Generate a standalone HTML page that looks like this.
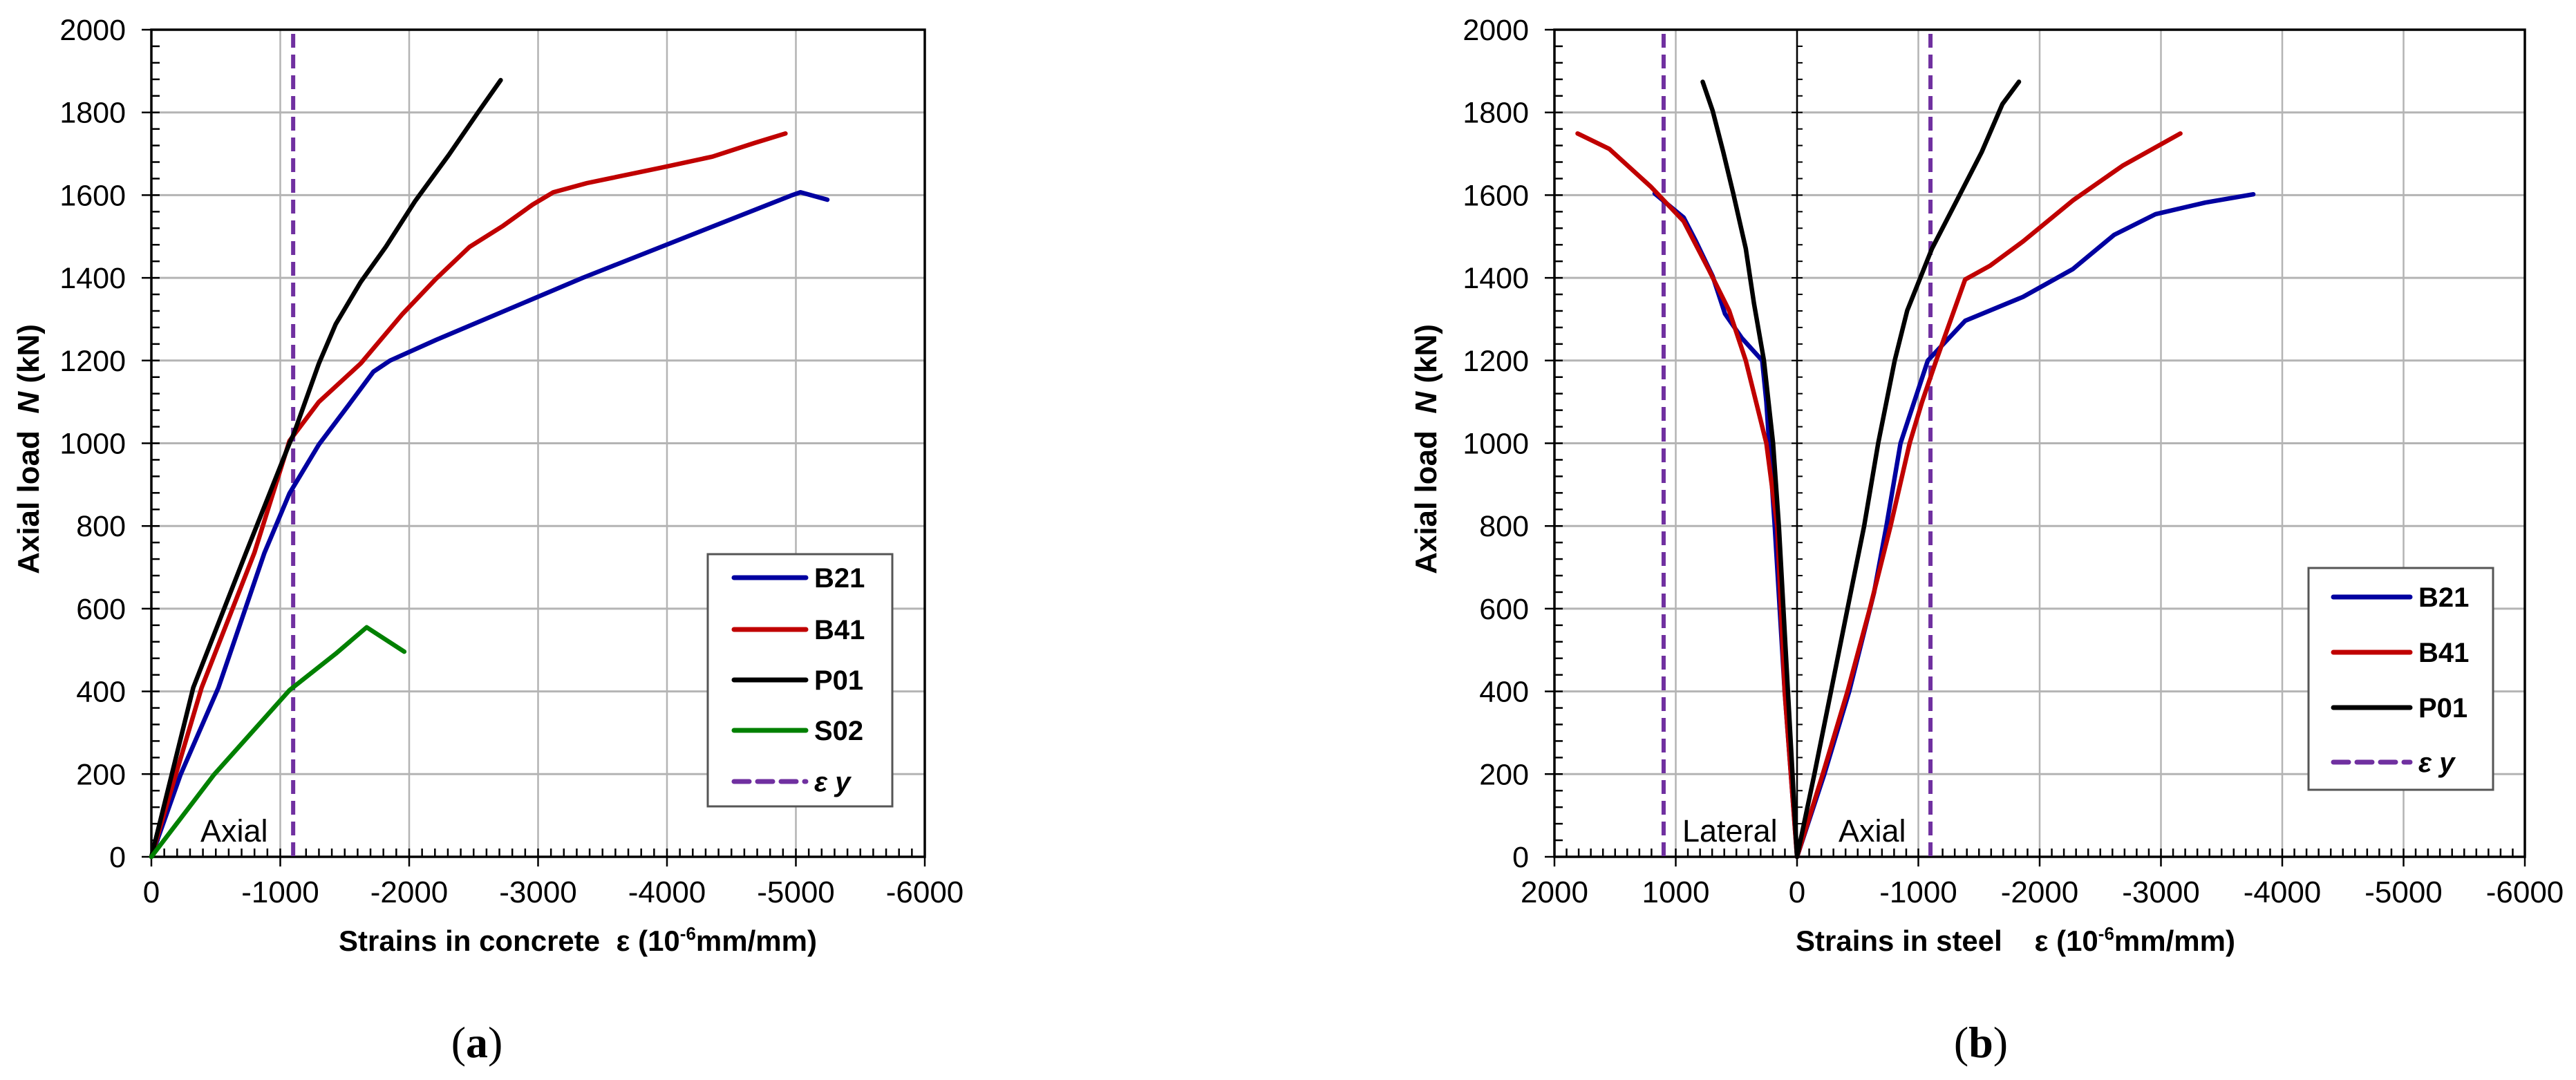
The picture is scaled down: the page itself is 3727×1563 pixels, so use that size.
<!DOCTYPE html>
<html><head><meta charset="utf-8"><style>
html,body{margin:0;padding:0;background:#fff;}
svg{display:block;font-family:"Liberation Sans",Arial,sans-serif;}
</style></head><body>
<svg id="fig" width="3727" height="1563" viewBox="0 0 3727 1563" xmlns="http://www.w3.org/2000/svg">
<rect x="0" y="0" width="3727" height="1563" fill="#fff"/>
</svg>
<script>
// ---- data: chart (a) concrete strains ----
const aB21 = [[0,0],[-227,199],[-520,409],[-877,735],[-1072,879],[-1300,997],[-1527,1091],[-1722,1173],[-1852,1200],[-2209,1250],[-3346,1400],[-4971,1600],[-5036,1607],[-5244,1589]];
const aB41 = [[0,0],[-390,409],[-799,735],[-1072,1006],[-1300,1100],[-1624,1193],[-1949,1313],[-2209,1398],[-2469,1475],[-2729,1526],[-2957,1577],[-3119,1607],[-3379,1629],[-3964,1667],[-4353,1693],[-4678,1726],[-4919,1749]];
const aP01 = [[0,0],[-325,409],[-734,735],[-1072,1000],[-1105,1023],[-1300,1193],[-1430,1288],[-1624,1390],[-1819,1475],[-2047,1586],[-2307,1697],[-2534,1800],[-2710,1878]];
const aS02 = [[0,0],[-487,199],[-1072,403],[-1430,491],[-1670,555],[-1962,496]];
const aYield = [-1100];
// ---- data: chart (b) steel strains ----
const bB21 = [[1174,1604],[1072,1579],[935,1546],[833,1488],[696,1404],[594,1313],[457,1255],[287,1200],[253,1100],[184,800],[102,400],[0,0],[-225,200],[-430,400],[-635,639],[-737,800],[-853,1000],[-1078,1200],[-1386,1296],[-1863,1354],[-2273,1421],[-2614,1504],[-2956,1554],[-3365,1582],[-3761,1602]];
const bB41 = [[1809,1749],[1549,1712],[1208,1621],[935,1537],[730,1421],[560,1321],[423,1200],[253,1000],[164,800],[102,400],[0,0],[-212,200],[-416,400],[-600,600],[-771,800],[-928,1000],[-1031,1100],[-1147,1200],[-1386,1396],[-1590,1429],[-1863,1488],[-2273,1587],[-2683,1671],[-3160,1749]];
const bP01 = [[778,1874],[696,1804],[608,1704],[526,1604],[423,1471],[355,1338],[273,1200],[198,1000],[150,800],[75,400],[0,0],[-143,200],[-280,400],[-416,600],[-553,800],[-669,1000],[-805,1200],[-908,1321],[-1113,1471],[-1317,1587],[-1522,1704],[-1693,1820],[-1829,1874]];
const bYield = [1100,-1100];
const yTicks = [0,200,400,600,800,1000,1200,1400,1600,1800,2000];
const aXTicks = [0,-1000,-2000,-3000,-4000,-5000,-6000];
const bXTicks = [2000,1000,0,-1000,-2000,-3000,-4000,-5000,-6000];

const NS="http://www.w3.org/2000/svg";
const svg=document.getElementById('fig');
function mk(tag,attrs,parent){const e=document.createElementNS(NS,tag);for(const k in attrs)e.setAttribute(k,attrs[k]);(parent||svg).appendChild(e);return e;}

function yS(n){return 1240-n*0.5985;}
function axA(e){return 219+(-e)*0.1865;}
function axB(e){return 2600+(-e)*0.1755;}

function drawChart(key,xs,xmin,xmax,xTicks,series,yields,legendBox,legendItems,xTitle,yTitleX,yLabelX,regionLabels,capX,capLetter){
  const g=mk('g',{});
  
  
  const L=xs(xmin),R=xs(xmax),T=yS(2000),B=yS(0);
  yTicks.forEach(t=>{ if(t>0&&t<2000){const l=mk('line',{x1:L,x2:R,y1:yS(t),y2:yS(t),stroke:'#b4b4b4','stroke-width':3},g);
    
    }});
  xTicks.forEach(t=>{const x=xs(t); if(Math.abs(x-L)>2&&Math.abs(x-R)>2){const l=mk('line',{x1:x,x2:x,y1:T,y2:B,stroke:'#b4b4b4','stroke-width':2.5},g);
    
    }});
  const fr=mk('rect',{x:L,y:T,width:R-L,height:B-T,fill:'none',stroke:'#000','stroke-width':3.5},g);
  
  
  for(let v=0;v<=2000;v+=40){const maj=v%200===0;const tk=mk('line',{x1:maj?L-14:L,x2:L+12,y1:yS(v),y2:yS(v),stroke:'#000','stroke-width':2.5},g);
    
    }
  const step=100, lo=Math.min(xmin,xmax), hi=Math.max(xmin,xmax);
  for(let v=lo;v<=hi;v+=step){const maj=v%1000===0;const x=xs(v);const tk=mk('line',{x1:x,x2:x,y1:maj?B+14:B,y2:B-12,stroke:'#000','stroke-width':2.5},g);
    
    }
  if(key==='b'){const z=mk('line',{x1:xs(0),x2:xs(0),y1:T,y2:B,stroke:'#000','stroke-width':2.5},g);
    
    
    for(let v=0;v<=2000;v+=40){const tk=mk('line',{x1:xs(0)-(v%200===0?8:0),x2:xs(0)+8,y1:yS(v),y2:yS(v),stroke:'#000','stroke-width':2},g);
      
      }}
  yTicks.forEach(t=>{const tx=mk('text',{x:yLabelX,y:yS(t)+15,'text-anchor':'end','font-size':43,fill:'#000'},g);tx.textContent=t;
    
    });
  xTicks.forEach(t=>{const tx=mk('text',{x:xs(t),y:1306,'text-anchor':'middle','font-size':44,fill:'#000'},g);tx.textContent=t;
    
    });
  yields.forEach(v=>{const l=mk('line',{x1:xs(v),x2:xs(v),y1:T+6,y2:B,stroke:'#7030a0','stroke-width':6,'stroke-dasharray':'20 10'},g);
    
    });
  series.forEach(s=>{const d=s.pts.map((p,i)=>(i?'L':'M')+xs(p[0]).toFixed(1)+' '+yS(p[1]).toFixed(1)).join(' ');
    const p=mk('path',{d:d,fill:'none',stroke:s.color,'stroke-width':6.5,'stroke-linejoin':'round','stroke-linecap':'round'},g);
    
    });
  regionLabels.forEach(r=>{const tx=mk('text',{x:r[1],y:1218,'font-size':45,fill:'#000'},g);tx.textContent=r[0];
    
    });
  const lb=mk('rect',{x:legendBox[0],y:legendBox[1],width:legendBox[2],height:legendBox[3],fill:'#fff',stroke:'#555','stroke-width':3},g);
  
  
  legendItems.forEach(it=>{
    const ln=mk('line',{x1:it.x1,x2:it.x2,y1:it.y,y2:it.y,stroke:it.color,'stroke-width':7,'stroke-linecap':'round'},g);
    if(it.dash)ln.setAttribute('stroke-dasharray','22 12');
    
    
    const tx=mk('text',{x:it.x2+12,y:it.y+14,'font-size':40,'font-weight':'bold',fill:'#000'},g);
    if(it.dash){tx.setAttribute('font-style','italic');}
    tx.textContent=it.label;
    
    });
  const xt=mk('text',{x:xTitle[1],y:1376,'text-anchor':'middle','font-size':42,'font-weight':'bold',fill:'#000'},g);
  xt.innerHTML=xTitle[0];
  
  
  const yt=mk('text',{x:0,y:0,'text-anchor':'middle','font-size':44,'font-weight':'bold',fill:'#000',transform:'translate('+yTitleX+',650) rotate(-90)'},g);
  yt.innerHTML='Axial load&#160;&#160;<tspan font-style="italic">N</tspan> (kN)';
  
  
  const cp=mk('text',{x:capX,y:1530,'text-anchor':'middle','font-size':64,fill:'#000','font-family':'Liberation Serif, serif'},g);
  cp.innerHTML='(<tspan font-weight="bold">'+capLetter+'</tspan>)';
  
  
}

drawChart('a',axA,0,-6000,aXTicks,
  [{name:'B21',pts:aB21,color:'#0000a0'},{name:'B41',pts:aB41,color:'#c00000'},{name:'P01',pts:aP01,color:'#000'},{name:'S02',pts:aS02,color:'#008000'}],
  aYield,[1024,802,267,365],
  [{x1:1062,x2:1166,y:836,color:'#0000a0',label:'B21'},{x1:1062,x2:1166,y:911,color:'#c00000',label:'B41'},{x1:1062,x2:1166,y:984,color:'#000',label:'P01'},{x1:1062,x2:1166,y:1057,color:'#008000',label:'S02'},{x1:1062,x2:1166,y:1131,color:'#7030a0',label:'ε y',dash:true}],
  ['Strains in concrete&#160;&#160;ε (10<tspan font-size="26" dy="-16">-6</tspan><tspan dy="16">mm/mm)</tspan>',836],
  56,182,[['Axial',290]],690,'a');

drawChart('b',axB,2000,-6000,bXTicks,
  [{name:'B21',pts:bB21,color:'#0000a0'},{name:'B41',pts:bB41,color:'#c00000'},{name:'P01',pts:bP01,color:'#000'}],
  bYield,[3340,822,267,321],
  [{x1:3376,x2:3487,y:864,color:'#0000a0',label:'B21'},{x1:3376,x2:3487,y:944,color:'#c00000',label:'B41'},{x1:3376,x2:3487,y:1024,color:'#000',label:'P01'},{x1:3376,x2:3487,y:1103,color:'#7030a0',label:'ε y',dash:true}],
  ['Strains in steel&#160;&#160;&#160;&#160;ε (10<tspan font-size="26" dy="-16">-6</tspan><tspan dy="16">mm/mm)</tspan>',2916],
  2078,2212,[['Lateral',2434],['Axial',2660]],2866,'b');
</script>
</body></html>
